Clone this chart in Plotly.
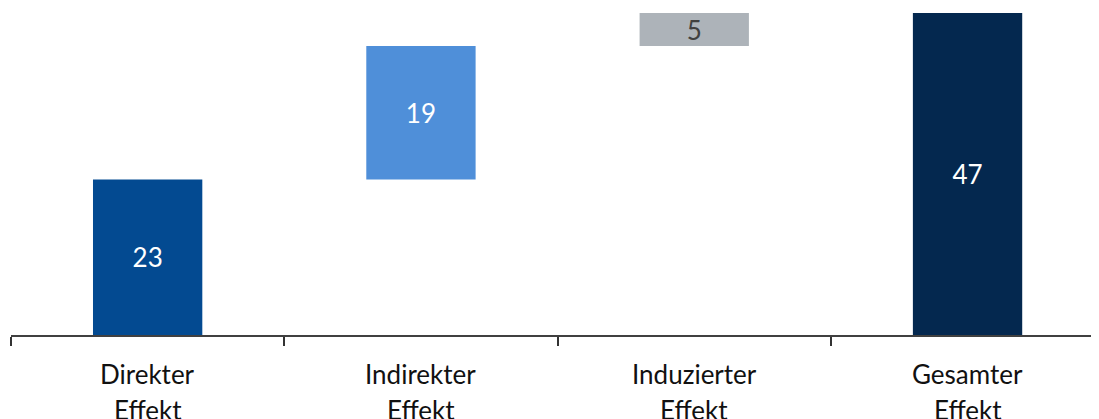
import plotly.graph_objects as go

# waterfall-style decomposition
categories = ["Direkter<br>Effekt", "Indirekter<br>Effekt", "Induzierter<br>Effekt", "Gesamter<br>Effekt"]
values = [22.6, 19.4, 4.8, 46.8]
is_total = [False, False, False, True]
bar_colors = ["#034A91", "#4F8FD9", "#ADB3B9", "#04284F"]
text_colors = ["white", "white", "#404040", "white"]

# stack the increments, totals start at zero
bases = []
running = 0.0
for v, tot in zip(values, is_total):
    if tot:
        bases.append(0.0)
    else:
        bases.append(running)
        running += v

x_pos = list(range(len(categories)))

fig = go.Figure()
fig.add_trace(go.Bar(
    x=x_pos,
    y=values,
    base=bases,
    width=0.4,
    marker=dict(color=bar_colors, line=dict(width=0)),
    text=[f"{v:.0f}" for v in values],
    textposition="inside",
    insidetextanchor="middle",
    textangle=0,
    constraintext="none",
    textfont=dict(family="Lato", size=26, color=text_colors),
    hoverinfo="skip",
))

# category labels, one annotation per line for control over line pitch
for i, cat in enumerate(categories):
    for j, line in enumerate(cat.split("<br>")):
        fig.add_annotation(
            x=i, y=0, xref="x", yref="paper",
            text=line, showarrow=False,
            yanchor="top", yshift=-21 - 36 * j,
            font=dict(family="Lato", size=26, color="#111111"),
        )

# page body has an 8px margin, so the figure is sized/offset to compensate
fig.update_layout(
    width=1091,
    height=411,
    template="plotly_white",
    margin=dict(l=3, r=0, t=5, b=84),
    showlegend=False,
    plot_bgcolor="white",
    paper_bgcolor="white",
)
fig.update_xaxes(
    range=[-0.5, -0.5 + 1088 / 273.3],
    tickvals=[-0.5, 0.5, 1.5, 2.5],
    ticktext=["", "", "", ""],
    ticks="outside",
    ticklen=9,
    tickwidth=1.5,
    tickcolor="#333333",
    showline=True,
    linecolor="#404040",
    linewidth=1.5,
    showgrid=False,
    zeroline=False,
)
fig.update_yaxes(
    range=[0, 46.8],
    visible=False,
    showgrid=False,
    zeroline=False,
)

fig.write_html("out.html")
